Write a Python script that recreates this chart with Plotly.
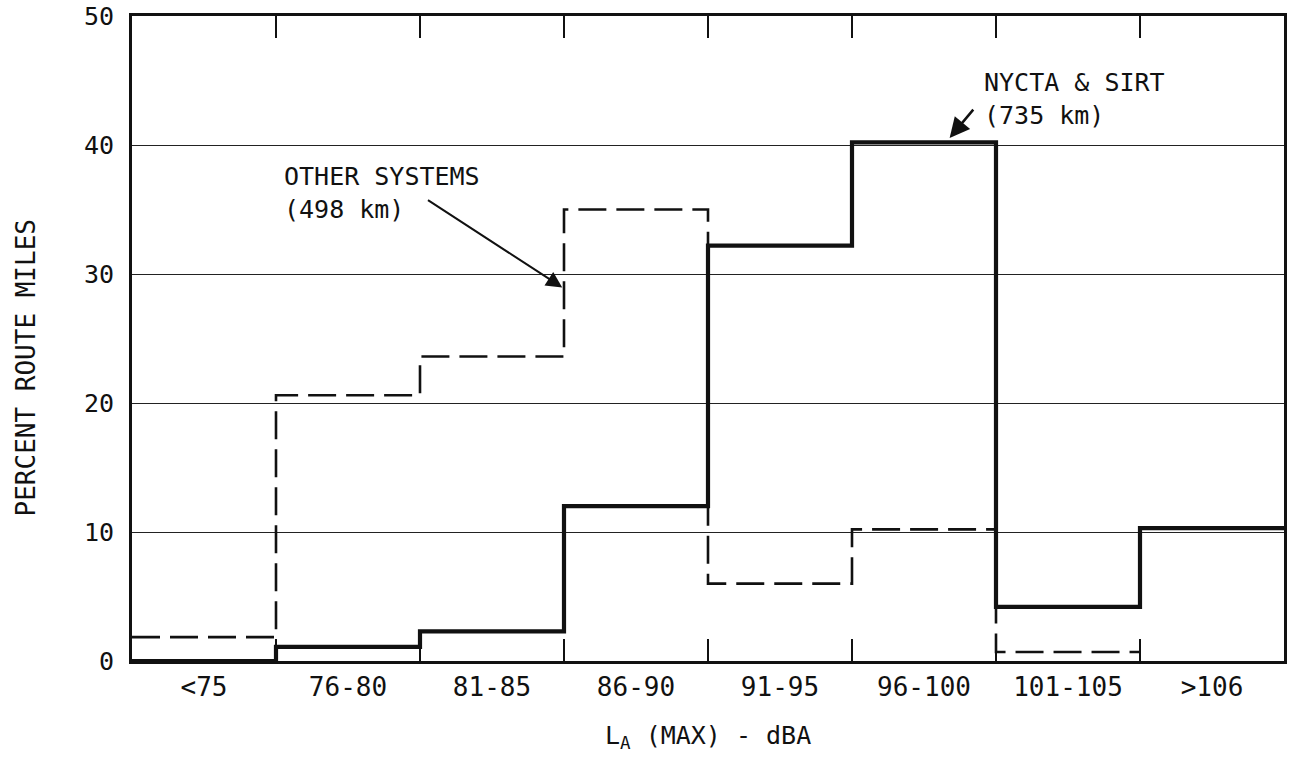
import plotly.graph_objects as go

categories = ["<75", "76-80", "81-85", "86-90", "91-95", "96-100", "101-105", ">106"]
nycta_sirt = [0.0, 1.1, 2.3, 12.0, 32.2, 40.2, 4.2, 10.3]
other_systems = [1.85, 20.6, 23.6, 35.0, 6.0, 10.2, 0.7, None]
y_ticks = [0, 10, 20, 30, 40, 50]

FONT = "DejaVu Sans Mono"


def step_points(vals):
    xs, ys = [], []
    last = None
    for i, v in enumerate(vals):
        if v is None:
            break
        xs.append(i - 0.5)
        ys.append(v)
        last = i
    xs.append(last + 0.5)
    ys.append(vals[last])
    return xs, ys


n = len(categories)
edges = [i + 0.5 for i in range(n - 1)]

fig = go.Figure()

xo, yo = step_points(other_systems)
fig.add_trace(go.Scatter(x=xo, y=yo, mode="lines", line_shape="hv",
                         line=dict(color="#111", width=2.6, dash="28px,10px"),
                         name="OTHER SYSTEMS", showlegend=False, hoverinfo="skip"))

xs, ys = step_points(nycta_sirt)
fig.add_trace(go.Scatter(x=xs, y=ys, mode="lines", line_shape="hv",
                         line=dict(color="#111", width=4.2),
                         name="NYCTA & SIRT", showlegend=False, hoverinfo="skip"))

fig.add_trace(go.Scatter(x=[None], y=[None], xaxis="x2", showlegend=False, hoverinfo="skip"))

fig.update_layout(
    width=1289, height=771,
    margin=dict(l=132, r=2, t=10, b=110),
    plot_bgcolor="white", paper_bgcolor="white",
    font=dict(family=FONT, color="#111", size=24),
    xaxis=dict(range=[-0.5, n - 0.5], tickvals=edges, ticks="inside", ticklen=22,
               tickwidth=2, tickcolor="#111", showticklabels=False,
               showline=True, linewidth=3, linecolor="#111", mirror="ticks",
               showgrid=False, zeroline=False),
    xaxis2=dict(overlaying="x", anchor="y", side="bottom", range=[-0.5, n - 0.5],
                tickvals=list(range(n)), ticktext=categories, ticks="",
                showline=False, showgrid=False, zeroline=False,
                tickfont=dict(family=FONT, size=26, color="#111"),
                ticklabelstandoff=8),
    yaxis=dict(range=[0, 50], tickvals=y_ticks, ticktext=[str(v) for v in y_ticks],
               ticks="", showline=True, linewidth=3, linecolor="#111", mirror=True,
               showgrid=True, gridcolor="#222", gridwidth=1.4, zeroline=False,
               tickfont=dict(family=FONT, size=25, color="#111"),
               ticklabelstandoff=10, ticklabeloverflow="allow"),
)

fig.add_annotation(text="PERCENT ROUTE MILES", textangle=-90,
                   xref="paper", yref="y", x=(26 - 132) / 1155, y=22.7,
                   xanchor="center", yanchor="middle", showarrow=False,
                   font=dict(family=FONT, size=26, color="#111"))

fig.add_annotation(text="L<sub>A</sub> (MAX) - dBA",
                   xref="paper", yref="paper", x=0.5, y=-0.09,
                   xanchor="center", yanchor="top", showarrow=False,
                   font=dict(family=FONT, size=25, color="#111"))

fig.add_annotation(text="OTHER SYSTEMS<br>(498 km)", align="left",
                   xref="x", yref="y", x=0.54, y=36.3,
                   xanchor="left", yanchor="middle", showarrow=False,
                   font=dict(family=FONT, size=25, color="#111"))
fig.add_annotation(text="", xref="x", yref="y", x=2.488, y=28.96,
                   axref="x", ayref="y", ax=1.545, ay=35.8,
                   showarrow=True, arrowhead=2, arrowsize=1.6, arrowwidth=2,
                   arrowcolor="#111", standoff=0, startstandoff=0)

fig.add_annotation(text="NYCTA & SIRT<br>(735 km)", align="left",
                   xref="x", yref="y", x=5.406, y=43.6,
                   xanchor="left", yanchor="middle", showarrow=False,
                   font=dict(family=FONT, size=25, color="#111"))
fig.add_annotation(text="", xref="x", yref="y", x=5.178, y=40.55,
                   axref="x", ayref="y", ax=5.351, ay=42.86,
                   showarrow=True, arrowhead=2, arrowsize=1.6, arrowwidth=2.5,
                   arrowcolor="#111", standoff=0, startstandoff=0)

fig.write_html("out.html")
